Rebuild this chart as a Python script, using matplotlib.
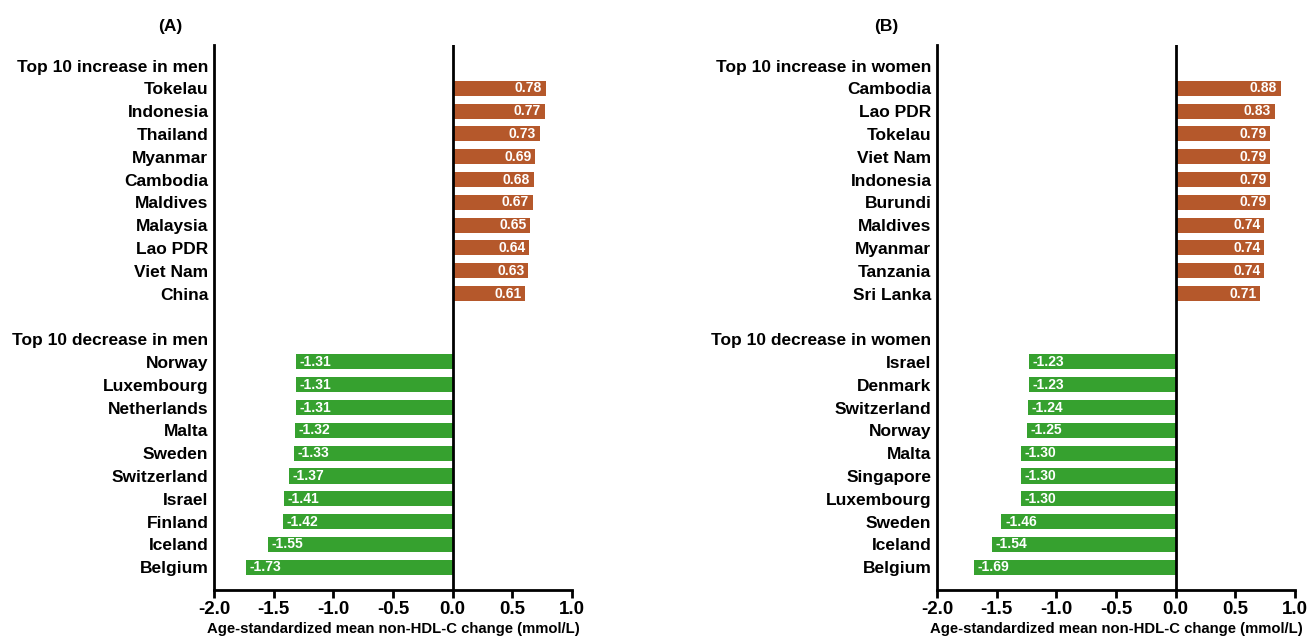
import matplotlib.pyplot as plt

men_up = ['Tokelau', 'Indonesia', 'Thailand', 'Myanmar', 'Cambodia',
          'Maldives', 'Malaysia', 'Lao PDR', 'Viet Nam', 'China']
men_up_val = [0.78, 0.77, 0.73, 0.69, 0.68, 0.67, 0.65, 0.64, 0.63, 0.61]
men_down = ['Norway', 'Luxembourg', 'Netherlands', 'Malta', 'Sweden',
            'Switzerland', 'Israel', 'Finland', 'Iceland', 'Belgium']
men_down_val = [-1.31, -1.31, -1.31, -1.32, -1.33, -1.37, -1.41, -1.42, -1.55, -1.73]

women_up = ['Cambodia', 'Lao PDR', 'Tokelau', 'Viet Nam', 'Indonesia',
            'Burundi', 'Maldives', 'Myanmar', 'Tanzania', 'Sri Lanka']
women_up_val = [0.88, 0.83, 0.79, 0.79, 0.79, 0.79, 0.74, 0.74, 0.74, 0.71]
women_down = ['Israel', 'Denmark', 'Switzerland', 'Norway', 'Malta',
              'Singapore', 'Luxembourg', 'Sweden', 'Iceland', 'Belgium']
women_down_val = [-1.23, -1.23, -1.24, -1.25, -1.30, -1.30, -1.30, -1.46, -1.54, -1.69]

xticks = [-2.0, -1.5, -1.0, -0.5, 0.0, 0.5, 1.0]
xlabel = 'Age-standardized mean non-HDL-C change (mmol/L)'

plt.rcParams['font.family'] = ['Liberation Sans', 'DejaVu Sans']
plt.rcParams['font.weight'] = 'bold'

orange = '#B5582B'
green = '#36A12F'

fig = plt.figure(figsize=(13.07, 6.37), dpi=100)


def panel(rect, up, up_val, down, down_val, sex, title, title_x):
    ax = fig.add_axes(rect)
    up_pos = list(range(1, 11))
    down_pos = list(range(13, 23))
    ax.barh(up_pos, up_val, height=0.66, color=orange)
    ax.barh(down_pos, down_val, height=0.66, color=green)
    for p, v in zip(up_pos, up_val):
        ax.text(v - 0.03, p, f'{v:.2f}', color='white', fontsize=10,
                fontweight='bold', ha='right', va='center')
    for p, v in zip(down_pos, down_val):
        ax.text(v + 0.03, p, f'{v:.2f}', color='white', fontsize=10,
                fontweight='bold', ha='left', va='center')
    labels = ['Top 10 increase in ' + sex] + up + [''] + ['Top 10 decrease in ' + sex] + down
    ax.set_yticks(range(0, 23))
    ax.set_yticklabels(labels, fontsize=12.5, fontweight='bold')
    ax.set_ylim(23.0, -0.9)
    ax.set_xlim(-2.0, 1.0)
    ax.set_xticks(xticks)
    ax.set_xticklabels([f'{t:.1f}' for t in xticks], fontsize=13.5, fontweight='bold')
    ax.tick_params(axis='y', length=0, pad=4)
    ax.tick_params(axis='x', length=6, width=2, pad=2)
    ax.axvline(0, color='black', lw=2)
    for s in ['top', 'right']:
        ax.spines[s].set_visible(False)
    for s in ['left', 'bottom']:
        ax.spines[s].set_linewidth(2)
    ax.set_xlabel(xlabel, fontsize=10.7, fontweight='bold', labelpad=3)
    fig.text(title_x, 1 - 27 / 637, title, fontsize=12.5, fontweight='bold',
             ha='center', va='center')
    return ax


panel([214 / 1307, 1 - 590 / 637, 358 / 1307, 545 / 637],
      men_up, men_up_val, men_down, men_down_val, 'men', '(A)', 170 / 1307)
panel([937 / 1307, 1 - 590 / 637, 358 / 1307, 545 / 637],
      women_up, women_up_val, women_down, women_down_val, 'women', '(B)', 886 / 1307)

plt.savefig('out.png', dpi=100)
